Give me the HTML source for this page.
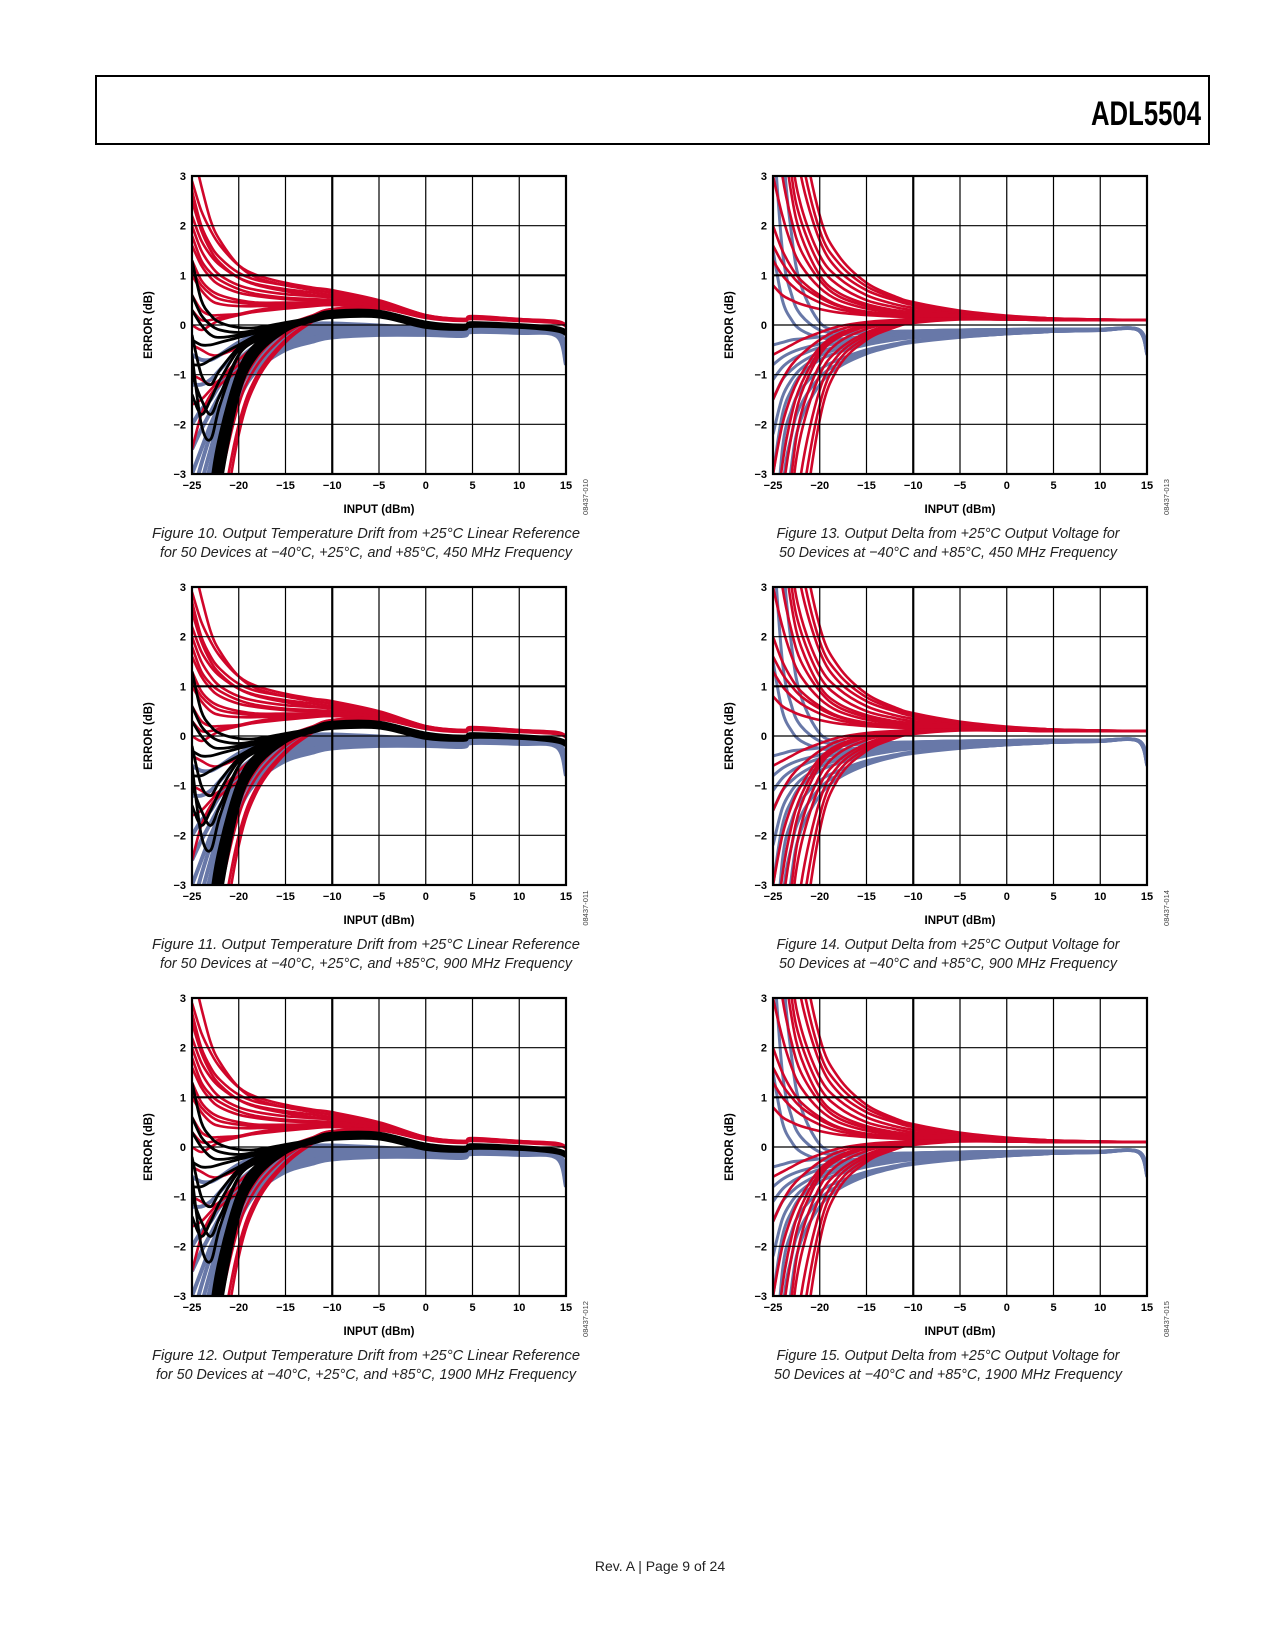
<!DOCTYPE html>
<html><head><meta charset="utf-8"><style>
html,body{margin:0;padding:0;background:#fff;width:1275px;height:1650px;overflow:hidden;position:relative}
svg{display:block;position:absolute;left:0;top:0}
.tk{font-family:"Liberation Sans",sans-serif;font-weight:bold;font-size:11px;fill:#000}
.ax{font-family:"Liberation Sans",sans-serif;font-weight:bold;font-size:11.5px;fill:#000}
.cap{font-family:"Liberation Sans",sans-serif;font-style:italic;font-size:15px;fill:#222}
.fid{font-family:"Liberation Sans",sans-serif;font-size:7.5px;fill:#444}
</style></head><body>
<svg id="page" width="1275" height="1650" viewBox="0 0 1275 1650" xmlns="http://www.w3.org/2000/svg">
<rect x="96" y="76" width="1113" height="68" fill="none" stroke="#000" stroke-width="2"/>
<text x="1201" y="125" text-anchor="end" font-family="Liberation Sans Narrow, Liberation Sans, sans-serif" font-weight="bold" font-size="34" textLength="110" lengthAdjust="spacingAndGlyphs">ADL5504</text>
<text x="660" y="1571" text-anchor="middle" font-family="Liberation Sans, sans-serif" font-size="14" fill="#222">Rev. A | Page 9 of 24</text>
<g id="charts"></g>
</svg>
<script>
const X = [-25,-24,-23,-22,-20,-18,-15,-12,-10,-5,0,4,5,10,14,15];
const xTicks = [-25,-20,-15,-10,-5,0,5,10,15];
const yTicks = [3,2,1,0,-1,-2,-3];
const xTickLabels = ["\u221225","\u221220","\u221215","\u221210","\u22125","0","5","10","15"];
const yTickLabels = ["3","2","1","0","\u22121","\u22122","\u22123"];

const leftRed = [
[2.9,2.3,1.9,1.6,1.2,1.0,0.85,0.75,0.7,0.5,0.2,0.12,0.18,0.12,0.08,0.0],
[2.7,2.0,1.6,1.35,1.05,0.9,0.8,0.7,0.65,0.48,0.2,0.12,0.17,0.12,0.07,0.0],
[3.6,2.8,2.1,1.7,1.2,0.95,0.8,0.7,0.65,0.45,0.18,0.1,0.15,0.1,0.06,-0.02],
[2.2,1.7,1.4,1.2,0.95,0.82,0.72,0.65,0.6,0.45,0.18,0.1,0.15,0.1,0.06,0.0],
[2.0,1.5,1.2,1.0,0.8,0.7,0.62,0.58,0.55,0.42,0.17,0.1,0.15,0.1,0.06,0.0],
[1.6,1.2,0.95,0.8,0.65,0.58,0.52,0.5,0.5,0.4,0.16,0.1,0.14,0.1,0.05,0.0],
[1.3,0.9,0.7,0.6,0.5,0.45,0.45,0.45,0.45,0.38,0.15,0.1,0.14,0.1,0.05,0.0],
[1.0,0.7,0.5,0.42,0.38,0.38,0.4,0.42,0.42,0.36,0.15,0.1,0.13,0.1,0.05,-0.02],
[0.6,0.3,0.2,0.2,0.22,0.27,0.33,0.38,0.4,0.35,0.14,0.08,0.12,0.08,0.04,-0.03],
[0.0,-0.1,0.0,0.1,0.2,0.28,0.35,0.4,0.42,0.38,0.15,0.1,0.13,0.1,0.05,0.0],
[2.5,1.9,1.5,1.25,0.95,0.8,0.68,0.6,0.56,0.44,0.18,0.11,0.16,0.11,0.06,0.0],
[1.8,1.3,1.05,0.9,0.72,0.62,0.55,0.52,0.5,0.4,0.17,0.1,0.15,0.1,0.06,0.0],
[1.1,0.8,0.62,0.52,0.45,0.42,0.44,0.46,0.46,0.38,0.16,0.1,0.14,0.1,0.05,0.0],
[0.3,0.1,0.1,0.15,0.22,0.3,0.38,0.44,0.46,0.38,0.16,0.1,0.14,0.1,0.05,0.0],
[-9,-6.5,-4.5,-3.2,-1.6,-0.8,-0.2,0.15,0.3,0.35,0.16,0.1,0.13,0.1,0.05,0.0],
[-8,-6,-4.2,-3,-1.4,-0.65,-0.1,0.2,0.32,0.36,0.16,0.1,0.13,0.1,0.05,0.0],
[-10,-7.5,-5.5,-4,-2,-1.0,-0.3,0.1,0.27,0.34,0.15,0.1,0.13,0.1,0.05,0.0],
[-11,-8.5,-6.2,-4.5,-2.2,-1.1,-0.35,0.08,0.25,0.33,0.15,0.1,0.13,0.1,0.05,0.0],
[-1.0,-1.1,-1.2,-1.1,-0.8,-0.5,-0.1,0.15,0.3,0.35,0.15,0.1,0.13,0.1,0.05,0.0],
[-2.5,-1.8,-1.4,-1.2,-0.9,-0.5,-0.15,0.12,0.28,0.34,0.15,0.1,0.13,0.1,0.05,0.0],
[-0.4,-0.5,-0.6,-0.6,-0.45,-0.25,0.0,0.2,0.32,0.36,0.16,0.1,0.13,0.1,0.05,0.0],
[-1.6,-1.5,-1.3,-1.1,-0.7,-0.4,-0.05,0.18,0.3,0.35,0.16,0.1,0.13,0.1,0.05,0.0]
];
const leftBlack = [
[1.3,0.5,0.2,0.05,-0.05,-0.05,0.05,0.15,0.22,0.22,0.0,-0.05,0.02,-0.02,-0.08,-0.15],
[0.6,0.2,0.0,-0.1,-0.15,-0.1,0.0,0.12,0.2,0.2,-0.02,-0.06,0.0,-0.03,-0.1,-0.18],
[-0.3,-0.4,-0.4,-0.35,-0.25,-0.15,0.0,0.12,0.2,0.2,-0.02,-0.06,0.0,-0.03,-0.1,-0.18],
[-1.0,-1.5,-1.8,-1.4,-0.6,-0.3,-0.05,0.1,0.18,0.2,-0.02,-0.06,0.0,-0.03,-0.1,-0.18],
[-0.6,-2.0,-2.3,-1.6,-0.6,-0.3,-0.05,0.1,0.18,0.2,-0.02,-0.06,0.0,-0.03,-0.1,-0.18],
[-9,-6,-4,-2.8,-1.2,-0.5,-0.1,0.1,0.18,0.2,-0.02,-0.06,0.0,-0.03,-0.1,-0.18],
[-8,-5.5,-3.6,-2.5,-1.0,-0.4,-0.08,0.1,0.18,0.2,-0.02,-0.06,0.0,-0.03,-0.1,-0.18],
[-7,-5,-3.3,-2.2,-0.9,-0.35,-0.05,0.12,0.2,0.2,-0.02,-0.06,0.0,-0.03,-0.1,-0.18],
[-10,-7,-4.8,-3.3,-1.4,-0.6,-0.12,0.1,0.18,0.2,-0.02,-0.06,0.0,-0.03,-0.1,-0.18],
[-0.8,-0.8,-0.7,-0.6,-0.4,-0.2,0.0,0.12,0.2,0.2,-0.02,-0.06,0.0,-0.03,-0.1,-0.18],
[0.3,0.0,-0.2,-0.25,-0.2,-0.1,0.02,0.14,0.21,0.21,0.0,-0.05,0.01,-0.02,-0.09,-0.16],
[-8.5,-5.8,-3.8,-2.6,-1.1,-0.45,-0.06,0.16,0.26,0.26,0.04,-0.02,0.04,0.0,-0.06,-0.14],
[-7.5,-5.2,-3.4,-2.3,-0.95,-0.38,-0.02,0.18,0.28,0.28,0.06,0.0,0.05,0.01,-0.05,-0.12],
[-9.5,-6.5,-4.4,-3.0,-1.3,-0.55,-0.1,0.08,0.15,0.16,-0.05,-0.09,-0.03,-0.05,-0.12,-0.2],
[-1.4,-1.8,-1.5,-1.1,-0.5,-0.25,0.0,0.16,0.25,0.25,0.03,-0.03,0.03,0.0,-0.07,-0.15],
[-0.2,-1.0,-1.2,-0.9,-0.45,-0.2,0.02,0.14,0.23,0.23,0.02,-0.04,0.02,-0.01,-0.08,-0.16]
];
const leftBlue = [
[-5,-4,-3,-2.3,-1.3,-0.8,-0.45,-0.3,-0.22,-0.18,-0.18,-0.2,-0.12,-0.14,-0.2,-0.75],
[-4,-3.2,-2.5,-1.9,-1.1,-0.65,-0.35,-0.22,-0.16,-0.14,-0.15,-0.18,-0.1,-0.12,-0.18,-0.65],
[-3,-2.5,-2.0,-1.6,-0.9,-0.5,-0.25,-0.12,-0.08,-0.08,-0.12,-0.15,-0.08,-0.1,-0.16,-0.6],
[-2,-1.7,-1.5,-1.2,-0.7,-0.4,-0.15,-0.05,-0.02,-0.05,-0.1,-0.12,-0.06,-0.08,-0.14,-0.55],
[-1.2,-1.2,-1.1,-0.9,-0.5,-0.25,-0.08,0.0,0.02,-0.02,-0.08,-0.1,-0.04,-0.06,-0.12,-0.5],
[-6,-4.5,-3.5,-2.6,-1.5,-0.9,-0.5,-0.33,-0.25,-0.2,-0.2,-0.22,-0.14,-0.16,-0.22,-0.8],
[-4.5,-3.6,-2.8,-2.1,-1.2,-0.72,-0.4,-0.26,-0.19,-0.16,-0.17,-0.19,-0.11,-0.13,-0.19,-0.7],
[-3.5,-2.8,-2.2,-1.75,-1.0,-0.58,-0.3,-0.17,-0.12,-0.11,-0.13,-0.16,-0.09,-0.11,-0.17,-0.62],
[-2.5,-2.1,-1.75,-1.4,-0.8,-0.45,-0.2,-0.09,-0.05,-0.06,-0.11,-0.13,-0.07,-0.09,-0.15,-0.57],
[-0.6,-0.7,-0.7,-0.6,-0.35,-0.18,-0.05,0.02,0.03,-0.01,-0.07,-0.09,-0.03,-0.05,-0.11,-0.48]
];
const rightRed = [
[12,6,3.5,2.4,1.4,0.95,0.6,0.42,0.35,0.24,0.17,0.13,0.12,0.11,0.1,0.1],
[9,5,3,2.1,1.2,0.8,0.5,0.36,0.3,0.22,0.16,0.12,0.12,0.1,0.1,0.1],
[6,4,2.6,1.8,1.0,0.65,0.42,0.3,0.26,0.2,0.15,0.12,0.11,0.1,0.1,0.1],
[3,2.2,1.6,1.2,0.75,0.5,0.33,0.25,0.22,0.18,0.14,0.11,0.11,0.1,0.1,0.1],
[2,1.5,1.15,0.9,0.6,0.4,0.27,0.22,0.2,0.17,0.13,0.11,0.1,0.1,0.1,0.1],
[1.3,1.0,0.8,0.65,0.45,0.32,0.23,0.19,0.18,0.16,0.13,0.11,0.1,0.1,0.1,0.1],
[0.8,0.6,0.5,0.42,0.32,0.25,0.2,0.17,0.16,0.15,0.12,0.1,0.1,0.1,0.1,0.1],
[15,8,4.5,3,1.7,1.1,0.7,0.5,0.4,0.26,0.18,0.14,0.13,0.11,0.1,0.1],
[25,14,7,4.2,2.2,1.4,0.85,0.58,0.46,0.29,0.19,0.14,0.13,0.11,0.1,0.1],
[20,11,5.5,3.5,1.9,1.25,0.78,0.54,0.43,0.27,0.18,0.14,0.13,0.11,0.1,0.1],
[4.5,3.0,2.1,1.5,0.9,0.58,0.38,0.28,0.24,0.19,0.14,0.12,0.11,0.1,0.1,0.1],
[1.6,1.25,1.0,0.8,0.55,0.38,0.26,0.21,0.19,0.16,0.13,0.11,0.1,0.1,0.1,0.1],
[-12,-6,-3.5,-2.2,-1.0,-0.5,-0.15,0.02,0.08,0.12,0.11,0.1,0.1,0.1,0.1,0.1],
[-9,-5,-3,-1.8,-0.8,-0.35,-0.08,0.05,0.1,0.13,0.12,0.1,0.1,0.1,0.1,0.1],
[-6,-3.5,-2.2,-1.4,-0.6,-0.25,-0.03,0.07,0.11,0.13,0.12,0.1,0.1,0.1,0.1,0.1],
[-3,-2,-1.4,-1.0,-0.45,-0.18,0.0,0.08,0.11,0.13,0.12,0.1,0.1,0.1,0.1,0.1],
[-1.5,-1.1,-0.8,-0.6,-0.3,-0.1,0.03,0.09,0.12,0.13,0.12,0.1,0.1,0.1,0.1,0.1],
[-0.6,-0.5,-0.4,-0.3,-0.15,-0.03,0.06,0.1,0.12,0.13,0.12,0.1,0.1,0.1,0.1,0.1],
[-20,-10,-5,-3,-1.3,-0.6,-0.2,0.0,0.07,0.12,0.11,0.1,0.1,0.1,0.1,0.1],
[-30,-16,-8,-4.6,-1.9,-0.85,-0.3,-0.05,0.04,0.11,0.11,0.1,0.1,0.1,0.1,0.1],
[-25,-13,-6.5,-3.8,-1.6,-0.72,-0.25,-0.02,0.06,0.12,0.11,0.1,0.1,0.1,0.1,0.1],
[-4.5,-2.8,-1.8,-1.2,-0.52,-0.2,0.0,0.08,0.11,0.13,0.12,0.1,0.1,0.1,0.1,0.1]
];
const rightBlue = [
[-5,-2.5,-1.7,-1.3,-0.9,-0.7,-0.5,-0.38,-0.32,-0.24,-0.18,-0.14,-0.13,-0.11,-0.1,-0.6],
[-3,-1.8,-1.3,-1.0,-0.7,-0.55,-0.4,-0.3,-0.26,-0.2,-0.15,-0.12,-0.12,-0.1,-0.1,-0.55],
[-1.5,-1.1,-0.9,-0.75,-0.55,-0.42,-0.3,-0.23,-0.2,-0.16,-0.13,-0.11,-0.1,-0.1,-0.1,-0.5],
[-0.8,-0.65,-0.55,-0.48,-0.38,-0.3,-0.22,-0.18,-0.16,-0.13,-0.11,-0.1,-0.1,-0.09,-0.09,-0.45],
[-0.4,-0.35,-0.3,-0.28,-0.24,-0.2,-0.16,-0.13,-0.12,-0.1,-0.09,-0.08,-0.08,-0.08,-0.08,-0.4],
[4,1.5,0.6,0.2,-0.1,-0.15,-0.15,-0.13,-0.12,-0.1,-0.09,-0.08,-0.08,-0.08,-0.08,-0.4],
[-12,-5,-2.8,-1.9,-1.2,-0.85,-0.58,-0.42,-0.35,-0.25,-0.18,-0.14,-0.13,-0.11,-0.1,-0.6],
[1.5,0.5,0.1,-0.1,-0.25,-0.28,-0.25,-0.2,-0.18,-0.14,-0.11,-0.1,-0.1,-0.09,-0.09,-0.45],
[10,4,1.8,0.8,0.05,-0.1,-0.14,-0.13,-0.12,-0.1,-0.09,-0.08,-0.08,-0.08,-0.08,-0.4],
[-2.2,-1.45,-1.1,-0.88,-0.62,-0.48,-0.35,-0.27,-0.23,-0.18,-0.14,-0.12,-0.11,-0.1,-0.1,-0.52],
[-1.1,-0.85,-0.7,-0.6,-0.45,-0.36,-0.26,-0.2,-0.18,-0.15,-0.12,-0.1,-0.1,-0.09,-0.09,-0.47],
[-8,-3.5,-2.2,-1.6,-1.05,-0.78,-0.54,-0.4,-0.33,-0.24,-0.18,-0.14,-0.13,-0.11,-0.1,-0.58]
];
const captions = [
["Figure 10. Output Temperature Drift from +25\u00b0C Linear Reference","for 50 Devices at \u221240\u00b0C, +25\u00b0C, and +85\u00b0C, 450 MHz Frequency","08437-010"],
["Figure 11. Output Temperature Drift from +25\u00b0C Linear Reference","for 50 Devices at \u221240\u00b0C, +25\u00b0C, and +85\u00b0C, 900 MHz Frequency","08437-011"],
["Figure 12. Output Temperature Drift from +25\u00b0C Linear Reference","for 50 Devices at \u221240\u00b0C, +25\u00b0C, and +85\u00b0C, 1900 MHz Frequency","08437-012"],
["Figure 13. Output Delta from +25\u00b0C Output Voltage for","50 Devices at \u221240\u00b0C and +85\u00b0C, 450 MHz Frequency","08437-013"],
["Figure 14. Output Delta from +25\u00b0C Output Voltage for","50 Devices at \u221240\u00b0C and +85\u00b0C, 900 MHz Frequency","08437-014"],
["Figure 15. Output Delta from +25\u00b0C Output Voltage for","50 Devices at \u221240\u00b0C and +85\u00b0C, 1900 MHz Frequency","08437-015"]
];

const NS = "http://www.w3.org/2000/svg";
const root = document.getElementById('charts');
function mk(tag, attrs, parent){const e=document.createElementNS(NS,tag);for(const k in attrs)e.setAttribute(k,attrs[k]);parent.appendChild(e);return e;}

function pathFor(vals, sx, sy){
  const p = X.map((x,i)=>[sx(x), sy(Math.max(-12,Math.min(12,vals[i])))]);
  let d = "M"+p[0][0].toFixed(1)+","+p[0][1].toFixed(1);
  for(let i=0;i<p.length-1;i++){
    const p0=p[Math.max(0,i-1)],p1=p[i],p2=p[i+1],p3=p[Math.min(p.length-1,i+2)];
    const c1x=p1[0]+(p2[0]-p0[0])/6,c1y=p1[1]+(p2[1]-p0[1])/6;
    const c2x=p2[0]-(p3[0]-p1[0])/6,c2y=p2[1]-(p3[1]-p1[1])/6;
    d+=" C"+c1x.toFixed(1)+","+c1y.toFixed(1)+" "+c2x.toFixed(1)+","+c2y.toFixed(1)+" "+p2[0].toFixed(1)+","+p2[1].toFixed(1);
  }
  return d;
}

function drawChart(idx, x0, y0, kind){
  const W=374, H=298;
  const sx = v => x0 + (v+25)/40*W;
  const sy = v => y0 + (3-v)/6*H;
  const g = mk('g',{},root);
  
  
  const cid='clip'+idx;
  const cp = mk('clipPath',{id:cid},g);
  mk('rect',{x:x0,y:y0,width:W,height:H},cp);
  const series = mk('g',{'clip-path':'url(#'+cid+')'},g);
  
  
  const groups = kind==='L' ? [[leftBlue,'#6878a8',4,'minus40c'],[leftRed,'#d0062a',2.6,'plus85c'],[leftBlack,'#000',2.8,'plus25c']]
                            : [[rightBlue,'#6878a8',3,'minus40c'],[rightRed,'#d0062a',2.6,'plus85c']];
  groups.forEach(([data,col,w,nm])=>{
    data.forEach(vals=>{
      const pth = mk('path',{d:pathFor(vals,sx,sy),fill:'none',stroke:col,'stroke-width':w,'stroke-linejoin':'round'},series);
      
      
    });
  });
  xTicks.forEach((t,i)=>{
    const gl = mk('line',{x1:sx(t),x2:sx(t),y1:y0,y2:y0+H,stroke:'#000','stroke-width':t===-10?2.2:1.2},g);
    
    
    const tl = mk('text',{x:sx(t),y:y0+H+15,'text-anchor':'middle',class:'tk'},g);
    
    
    tl.textContent = xTickLabels[i];
  });
  yTicks.forEach((t,i)=>{
    const gl = mk('line',{x1:x0,x2:x0+W,y1:sy(t),y2:sy(t),stroke:'#000','stroke-width':t===1?2.2:1.2},g);
    
    
    const tl = mk('text',{x:x0-6,y:sy(t)+4,'text-anchor':'end',class:'tk'},g);
    
    
    tl.textContent = yTickLabels[i];
  });
  const fr = mk('rect',{x:x0,y:y0,width:W,height:H,fill:'none',stroke:'#000','stroke-width':2.2},g);
  
  
  const yt = mk('text',{x:0,y:0,'text-anchor':'middle',class:'ax',transform:'translate('+(x0-40)+','+(y0+H/2)+') rotate(-90)'},g);
  
  
  yt.textContent='ERROR (dB)';
  const xt = mk('text',{x:x0+W/2,y:y0+H+39,'text-anchor':'middle',class:'ax'},g);
  
  
  xt.textContent='INPUT (dBm)';
  const fid = mk('text',{x:0,y:0,'text-anchor':'middle',class:'fid',transform:'translate('+(x0+W+22)+','+(y0+H+23)+') rotate(-90)'},g);
  
  
  fid.textContent=captions[idx][2];
  const cx = kind==='L'? 366 : 948;
  const c1 = mk('text',{x:cx,y:y0+H+64,'text-anchor':'middle',class:'cap',textLength:(kind==='L'?428:343),lengthAdjust:'spacingAndGlyphs'},g);
  
  
  c1.textContent=captions[idx][0];
  const c2 = mk('text',{x:cx,y:y0+H+83,'text-anchor':'middle',class:'cap',textLength:(kind==='L'?(idx===2?420:412):(idx===5?348:338)),lengthAdjust:'spacingAndGlyphs'},g);
  
  
  c2.textContent=captions[idx][1];
}
const tops=[176,587,998];
tops.forEach((t,i)=>drawChart(i,192,t,'L'));
tops.forEach((t,i)=>drawChart(i+3,773,t,'R'));
</script>
</body></html>
